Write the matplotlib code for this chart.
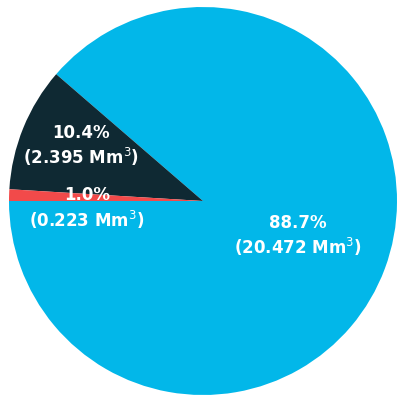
import numpy as np
import matplotlib
matplotlib.use("Agg")
import matplotlib.pyplot as plt

# volumes in Mm3
labels = ["Group A", "Group B", "Group C"]
volumes = [20.472, 2.395, 0.223]
colors = ["#02b7e9", "#0f2933", "#f24a4a"]

# label placement (fraction of radius, angle offset in degrees)
label_r = [0.52, 0.69, 0.60]
label_dang = [0.0, -2.2, 5.5]

fig = plt.figure(figsize=(3.98, 3.96), dpi=100)
ax = fig.add_axes([9 / 398, 1 / 396, 388 / 398, 388 / 396])

total = sum(volumes)
wedges, texts = ax.pie(volumes, colors=colors, startangle=180, counterclock=True,
                       radius=1.0, wedgeprops=dict(linewidth=0))

for w, v, r, da in zip(wedges, volumes, label_r, label_dang):
    mid = np.deg2rad((w.theta1 + w.theta2) / 2 + da)
    pct = 100 * v / total
    ax.text(r * np.cos(mid), r * np.sin(mid),
            "%.1f%%\n(%.3f Mm$^3$)" % (pct, v),
            ha="center", va="center", color="white", fontsize=12,
            fontweight="bold", linespacing=1.25)

ax.set_xlim(-1, 1)
ax.set_ylim(-1, 1)
ax.set_aspect("equal")
ax.axis("off")

fig.savefig("out.png", dpi=100)
